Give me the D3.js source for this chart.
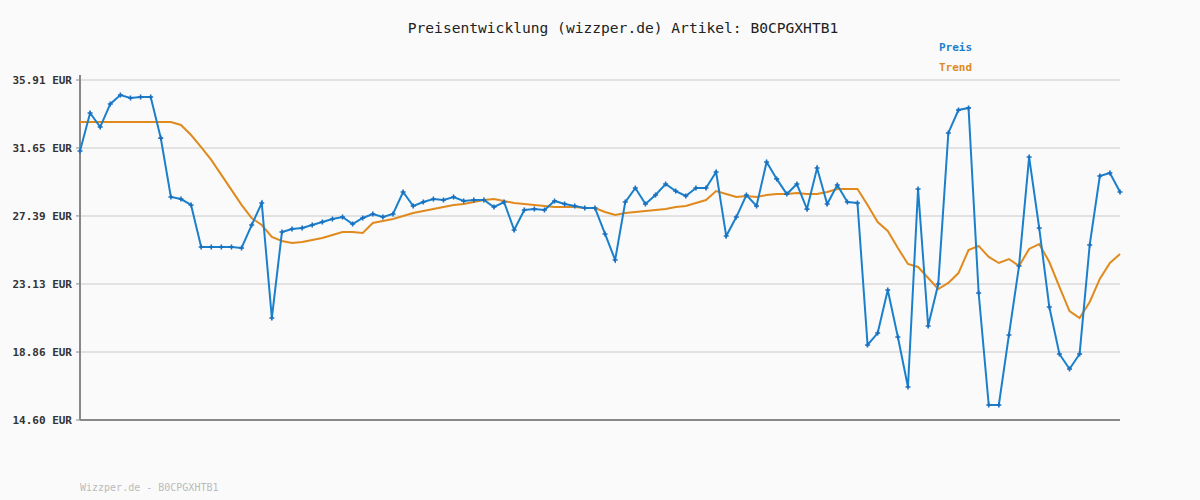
<!DOCTYPE html>
<html><head><meta charset="utf-8">
<script src="https://cdn.jsdelivr.net/npm/d3@7"></script>
<style>body{margin:0;background:#fafafa}</style></head>
<body><svg id="c" width="1200" height="500"></svg>
<script>
const title = "Preisentwicklung (wizzper.de) Artikel: B0CPGXHTB1";
const footer = "Wizzper.de - B0CPGXHTB1";
const tickValues = [14.60, 18.86, 23.13, 27.39, 31.65, 35.91];
const preis = [31.46,33.84,32.96,34.41,34.97,34.78,34.84,34.84,32.27,28.58,
28.45,28.08,25.44,25.44,25.44,25.44,25.38,26.82,28.20,20.99,
26.38,26.57,26.63,26.82,27.01,27.20,27.32,26.88,27.26,27.51,
27.32,27.51,28.89,28.01,28.26,28.45,28.39,28.58,28.33,28.39,
28.39,27.95,28.26,26.51,27.76,27.82,27.76,28.33,28.14,28.01,
27.89,27.89,26.26,24.63,28.26,29.14,28.14,28.70,29.39,28.95,
28.64,29.14,29.14,30.14,26.13,27.32,28.70,28.01,30.77,29.71,
28.76,29.39,27.82,30.39,28.14,29.33,28.26,28.20,19.30,20.05,
22.75,19.80,16.67,29.08,20.49,23.12,32.59,34.03,34.16,22.56,
15.54,15.54,19.93,24.25,31.08,26.63,21.68,18.74,17.80,18.74,
25.57,29.89,30.08,28.89];
const trend = [33.28,33.28,33.28,33.28,33.28,33.28,33.28,33.28,33.28,33.28,
33.09,32.46,31.71,30.90,29.96,29.02,28.08,27.26,26.82,26.07,
25.82,25.69,25.76,25.88,26.01,26.20,26.38,26.38,26.32,26.95,
27.07,27.20,27.39,27.57,27.70,27.82,27.95,28.08,28.14,28.26,
28.39,28.45,28.33,28.20,28.14,28.08,28.01,27.95,27.95,27.95,
27.89,27.89,27.64,27.45,27.57,27.64,27.70,27.76,27.82,27.95,
28.01,28.20,28.39,28.95,28.76,28.58,28.64,28.58,28.70,28.76,
28.76,28.83,28.76,28.76,28.89,29.08,29.08,29.08,28.08,27.01,
26.45,25.38,24.38,24.19,23.50,22.81,23.19,23.81,25.25,25.51,
24.82,24.44,24.69,24.25,25.32,25.63,24.50,22.94,21.43,20.99,
22.00,23.44,24.44,25.00];

const svg = d3.select("#c");
const font = "'DejaVu Sans Mono', monospace";
const L=80,R=1120,T=80,B=420;
const x = d3.scaleLinear().domain([0, preis.length-1]).range([L,R]);
const y = d3.scaleLinear().domain([14.60,35.91]).range([B,T]);

svg.append("rect").attr("width",1200).attr("height",500).attr("fill","#fafafa");
svg.append("g").selectAll("line").data(tickValues).join("line")
 .attr("x1",L).attr("x2",R).attr("y1",d=>y(d)).attr("y2",d=>y(d))
 .attr("stroke","#e2e2e2").attr("stroke-width",2);
svg.append("g").selectAll("line").data(tickValues).join("line")
 .attr("x1",L-4).attr("x2",L).attr("y1",d=>y(d)).attr("y2",d=>y(d))
 .attr("stroke","#888").attr("stroke-width",1);
svg.append("g").selectAll("text").data(tickValues).join("text")
 .attr("x",72).attr("y",d=>y(d)+4).attr("text-anchor","end")
 .attr("font-family",font).attr("font-size",11).attr("font-weight","bold").attr("fill","#333")
 .text(d=>d.toFixed(2)+" EUR");
svg.append("line").attr("x1",L).attr("x2",L).attr("y1",T-5).attr("y2",B).attr("stroke","#888").attr("stroke-width",2);
svg.append("line").attr("x1",L).attr("x2",R).attr("y1",B).attr("y2",B).attr("stroke","#888").attr("stroke-width",2);

const line = d3.line().x((d,i)=>x(i)).y(d=>y(d));
svg.append("path").datum(trend).attr("d",line).attr("fill","none").attr("stroke","#e08a1e").attr("stroke-width",2);
svg.append("path").datum(preis).attr("d",line).attr("fill","none").attr("stroke","#1a80cc").attr("stroke-width",2);
svg.append("g").selectAll("path").data(preis).join("path")
 .attr("d",(d,i)=>`M${x(i)-2.5},${y(d)}h5M${x(i)},${y(d)-2.5}v5`)
 .attr("stroke","#1a6fbf").attr("stroke-width",1.6);

svg.append("text").attr("x",623).attr("y",33).attr("text-anchor","middle")
 .attr("font-family",font).attr("font-size",14.6).attr("fill","#222").text(title);
svg.append("text").attr("x",939).attr("y",51).attr("font-family",font).attr("font-size",11)
 .attr("font-weight","bold").attr("fill","#1a80cc").text("Preis");
svg.append("text").attr("x",939).attr("y",71).attr("font-family",font).attr("font-size",11)
 .attr("font-weight","bold").attr("fill","#e08a1e").text("Trend");
svg.append("text").attr("x",80).attr("y",491).attr("font-family",font).attr("font-size",10)
 .attr("fill","#bbb").text(footer);
</script></body></html>
